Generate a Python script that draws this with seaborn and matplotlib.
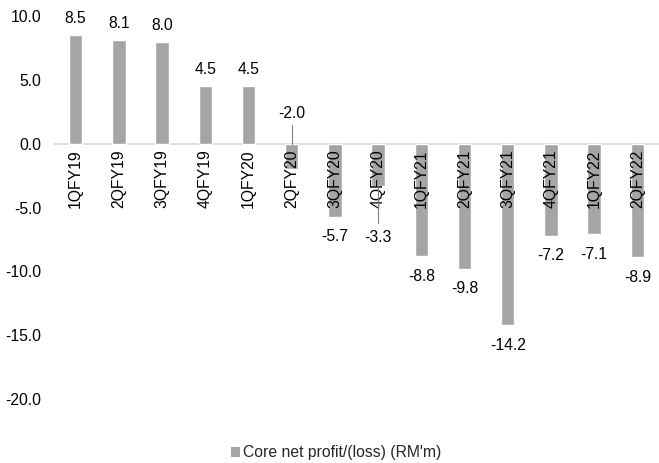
import matplotlib
matplotlib.use("Agg")
import matplotlib.pyplot as plt
from matplotlib.patches import Patch
import seaborn as sns
import pandas as pd

quarters = ["1QFY19", "2QFY19", "3QFY19", "4QFY19", "1QFY20", "2QFY20", "3QFY20",
            "4QFY20", "1QFY21", "2QFY21", "3QFY21", "4QFY21", "1QFY22", "2QFY22"]
core_profit = [8.5, 8.1, 8.0, 4.5, 4.5, -2.0, -5.7, -3.3, -8.8, -9.8, -14.2, -7.2, -7.1, -8.9]
y_ticks = [10, 5, 0, -5, -10, -15, -20]
series_name = "Core net profit/(loss) (RM'm)"

BAR = "#a5a5a5"
FS = 11.3

sns.set_theme(style="white")
plt.rcParams["font.family"] = ["Liberation Sans", "DejaVu Sans"]
plt.rcParams["font.size"] = FS

df = pd.DataFrame({"quarter": quarters, "value": core_profit})

fig = plt.figure(figsize=(6.59, 4.63), dpi=100)
ax = fig.add_axes([0.082, 0.138, 0.918, 0.827])

sns.barplot(data=df, x="quarter", y="value", order=quarters, color=BAR,
            saturation=1, width=0.31, ax=ax)

ax.set_ylim(-20, 10)
ax.set_xlim(-0.5, len(quarters) - 0.5)
ax.set_yticks(y_ticks)
ax.set_yticklabels([f"{t:.1f}" for t in y_ticks], fontsize=FS, color="black")
ax.tick_params(axis="y", length=0, pad=9)
ax.set_xticks([])
ax.set_xlabel("")
ax.set_ylabel("")
for s in ax.spines.values():
    s.set_visible(False)

ax.axhline(0, color="#d9d9d9", lw=1.2, zorder=0)

# quarter names, rotated, hanging just under the zero line
for i, q in enumerate(quarters):
    ax.annotate(q, xy=(i, 0), xytext=(0, -4), textcoords="offset points",
                rotation=90, ha="center", va="top", fontsize=FS, color="black")

# value labels; two of them sit off the bar end with a leader line
leader = {"2QFY20": (2.35, 1.45, 0.0), "4QFY20": (-7.35, -6.2, -3.3)}
for i, (q, v) in enumerate(zip(quarters, core_profit)):
    txt = f"{v:.1f}"
    if q in leader:
        pos, line_end, line_start = leader[q]
        ax.text(i, pos, txt, ha="center", va="center", fontsize=FS, color="black")
        ax.plot([i, i], [line_start, line_end], color="#7f7f7f", lw=0.8, zorder=3)
    elif v >= 0:
        ax.annotate(txt, xy=(i, v), xytext=(0, 6.5), textcoords="offset points",
                    ha="center", va="bottom", fontsize=FS, color="black")
    else:
        ax.annotate(txt, xy=(i, v), xytext=(0, -9), textcoords="offset points",
                    ha="center", va="top", fontsize=FS, color="black")

fig.legend(handles=[Patch(facecolor=BAR, edgecolor="none", label=series_name)],
           loc="center", bbox_to_anchor=(0.51, 0.022), frameon=False,
           fontsize=FS, handlelength=0.6, handleheight=0.6, handletextpad=0.2)

fig.savefig("out.png", dpi=100)
